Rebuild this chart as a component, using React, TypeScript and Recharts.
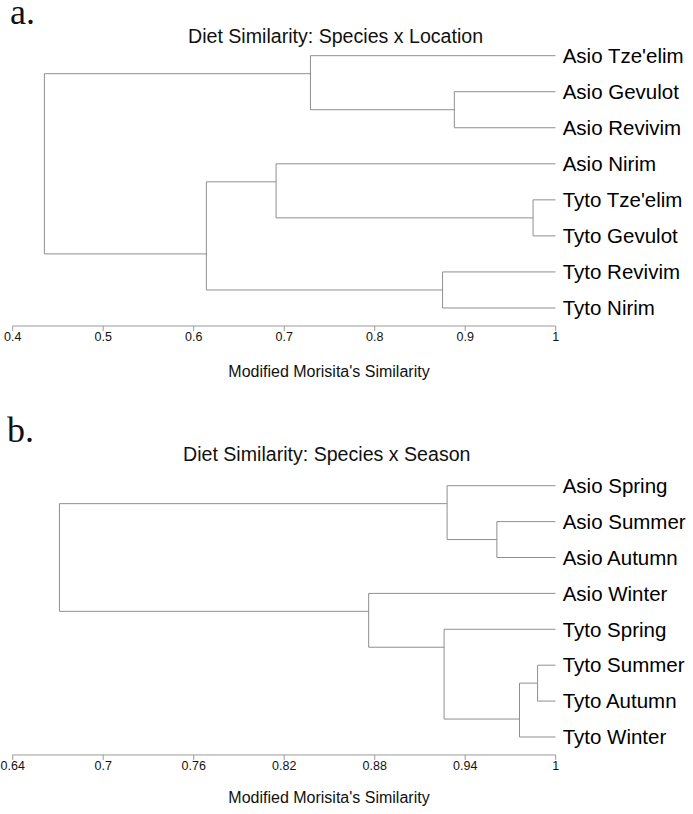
import { ScatterChart, Scatter, XAxis, YAxis } from 'recharts';

type Merge = { id: string; sim: number; upper: string; lower: string; pos: number };

const locationLeaves = [
  "Asio Tze'elim",
  'Asio Gevulot',
  'Asio Revivim',
  'Asio Nirim',
  "Tyto Tze'elim",
  'Tyto Gevulot',
  'Tyto Revivim',
  'Tyto Nirim',
];

// merge similarity + vertical position (in leaf rows) of each joined cluster
const locationMerges: Merge[] = [
  { id: 'asioGR', sim: 0.888, upper: 'Asio Gevulot', lower: 'Asio Revivim', pos: 1.5 },
  { id: 'asio3', sim: 0.729, upper: "Asio Tze'elim", lower: 'asioGR', pos: 0.5 },
  { id: 'tytoTG', sim: 0.975, upper: "Tyto Tze'elim", lower: 'Tyto Gevulot', pos: 4.5 },
  { id: 'nirimTG', sim: 0.691, upper: 'Asio Nirim', lower: 'tytoTG', pos: 3.5 },
  { id: 'tytoRN', sim: 0.875, upper: 'Tyto Revivim', lower: 'Tyto Nirim', pos: 6.5 },
  { id: 'lower5', sim: 0.614, upper: 'nirimTG', lower: 'tytoRN', pos: 5.5 },
  { id: 'root', sim: 0.435, upper: 'asio3', lower: 'lower5', pos: 3 },
];

const locationTicks = [0.4, 0.5, 0.6, 0.7, 0.8, 0.9, 1];

const seasonLeaves = [
  'Asio Spring',
  'Asio Summer',
  'Asio Autumn',
  'Asio Winter',
  'Tyto Spring',
  'Tyto Summer',
  'Tyto Autumn',
  'Tyto Winter',
];

const seasonMerges: Merge[] = [
  { id: 'asioSA', sim: 0.961, upper: 'Asio Summer', lower: 'Asio Autumn', pos: 1.5 },
  { id: 'asio3', sim: 0.928, upper: 'Asio Spring', lower: 'asioSA', pos: 0.5 },
  { id: 'tytoSA', sim: 0.988, upper: 'Tyto Summer', lower: 'Tyto Autumn', pos: 5.5 },
  { id: 'tytoSAW', sim: 0.976, upper: 'tytoSA', lower: 'Tyto Winter', pos: 6.5 },
  { id: 'tyto4', sim: 0.926, upper: 'Tyto Spring', lower: 'tytoSAW', pos: 4.5 },
  { id: 'winter5', sim: 0.876, upper: 'Asio Winter', lower: 'tyto4', pos: 3.5 },
  { id: 'root', sim: 0.671, upper: 'asio3', lower: 'winter5', pos: 2 },
];

const seasonTicks = [0.64, 0.7, 0.76, 0.82, 0.88, 0.94, 1];

const SANS = "'Liberation Sans', Arial, Helvetica, sans-serif";
const SERIF = "'Liberation Serif', 'Times New Roman', serif";
const LINE = '#8f8f8f';

function buildBrackets(leaves: string[], merges: Merge[]) {
  const place: Record<string, { x: number; y: number }> = {};
  leaves.forEach((name, i) => {
    place[name] = { x: 1, y: i };
  });
  merges.forEach((m) => {
    place[m.id] = { x: m.sim, y: m.pos };
  });
  return merges.map((m) => {
    const a = place[m.upper];
    const b = place[m.lower];
    return {
      id: m.id,
      points: [
        { x: a.x, y: a.y },
        { x: m.sim, y: a.y },
        { x: m.sim, y: b.y },
        { x: b.x, y: b.y },
      ],
    };
  });
}

const NoDot = () => <g />;

interface DendroProps {
  leaves: string[];
  merges: Merge[];
  ticks: number[];
  top: number;
  marginTop: number;
  plotHeight: number;
}

function Dendrogram({ leaves, merges, ticks, top, marginTop, plotHeight }: DendroProps) {
  const brackets = buildBrackets(leaves, merges);
  return (
    <div style={{ position: 'absolute', left: 0, top }}>
      <ScatterChart
        width={693}
        height={marginTop + plotHeight + 30}
        margin={{ top: marginTop, right: 0, bottom: 0, left: 12.7 }}
        style={{ fontFamily: SANS }}
      >
        <XAxis
          type="number"
          dataKey="x"
          domain={[ticks[0], 1]}
          ticks={ticks}
          height={30}
          stroke="#9a9a9a"
          tickSize={5}
          tickMargin={1}
          tick={{ fill: '#111', fontSize: 12.5 }}
          allowDataOverflow
        />
        <YAxis
          type="number"
          dataKey="y"
          orientation="right"
          reversed
          domain={[-0.5, 7.5]}
          ticks={leaves.map((_, i) => i)}
          tickFormatter={(v: number) => leaves[v] ?? ''}
          width={137.3}
          axisLine={false}
          tickLine={false}
          tickSize={0}
          tickMargin={7}
          tick={{ fill: '#000', fontSize: 20.5 }}
          interval={0}
        />
        {brackets.map((b) => (
          <Scatter
            key={b.id}
            data={b.points}
            line={{ stroke: LINE, strokeWidth: 1 }}
            lineType="joint"
            shape={NoDot}
            isAnimationActive={false}
          />
        ))}
      </ScatterChart>
    </div>
  );
}

const textStyle = (left: number, top: number, size: number, lh: number, family = SANS) => ({
  position: 'absolute' as const,
  left,
  top,
  fontSize: size,
  lineHeight: `${lh}px`,
  fontFamily: family,
  color: '#111',
  whiteSpace: 'nowrap' as const,
});

export default function App() {
  return (
    <div style={{ position: 'absolute', left: 0, top: 0, width: 693, height: 814, background: '#fff' }}>
      <Dendrogram
        leaves={locationLeaves}
        merges={locationMerges}
        ticks={locationTicks}
        top={0}
        marginTop={37.65}
        plotHeight={288.35}
      />
      <Dendrogram
        leaves={seasonLeaves}
        merges={seasonMerges}
        ticks={seasonTicks}
        top={430}
        marginTop={37.75}
        plotHeight={287.2}
      />
      <div style={textStyle(10, 0, 36, 24, SERIF)}>a.</div>
      <div style={textStyle(7, 417.5, 36, 24, SERIF)}>b.</div>
      <div style={textStyle(188, 26.5, 19.6, 19.6)}>Diet Similarity: Species x Location</div>
      <div style={textStyle(183, 445, 19.6, 19.6)}>Diet Similarity: Species x Season</div>
      <div style={{ ...textStyle(0, 364, 16, 16), width: 658, textAlign: 'center' }}>Modified Morisita's Similarity</div>
      <div style={{ ...textStyle(0, 790, 16, 16), width: 658, textAlign: 'center' }}>Modified Morisita's Similarity</div>
    </div>
  );
}
